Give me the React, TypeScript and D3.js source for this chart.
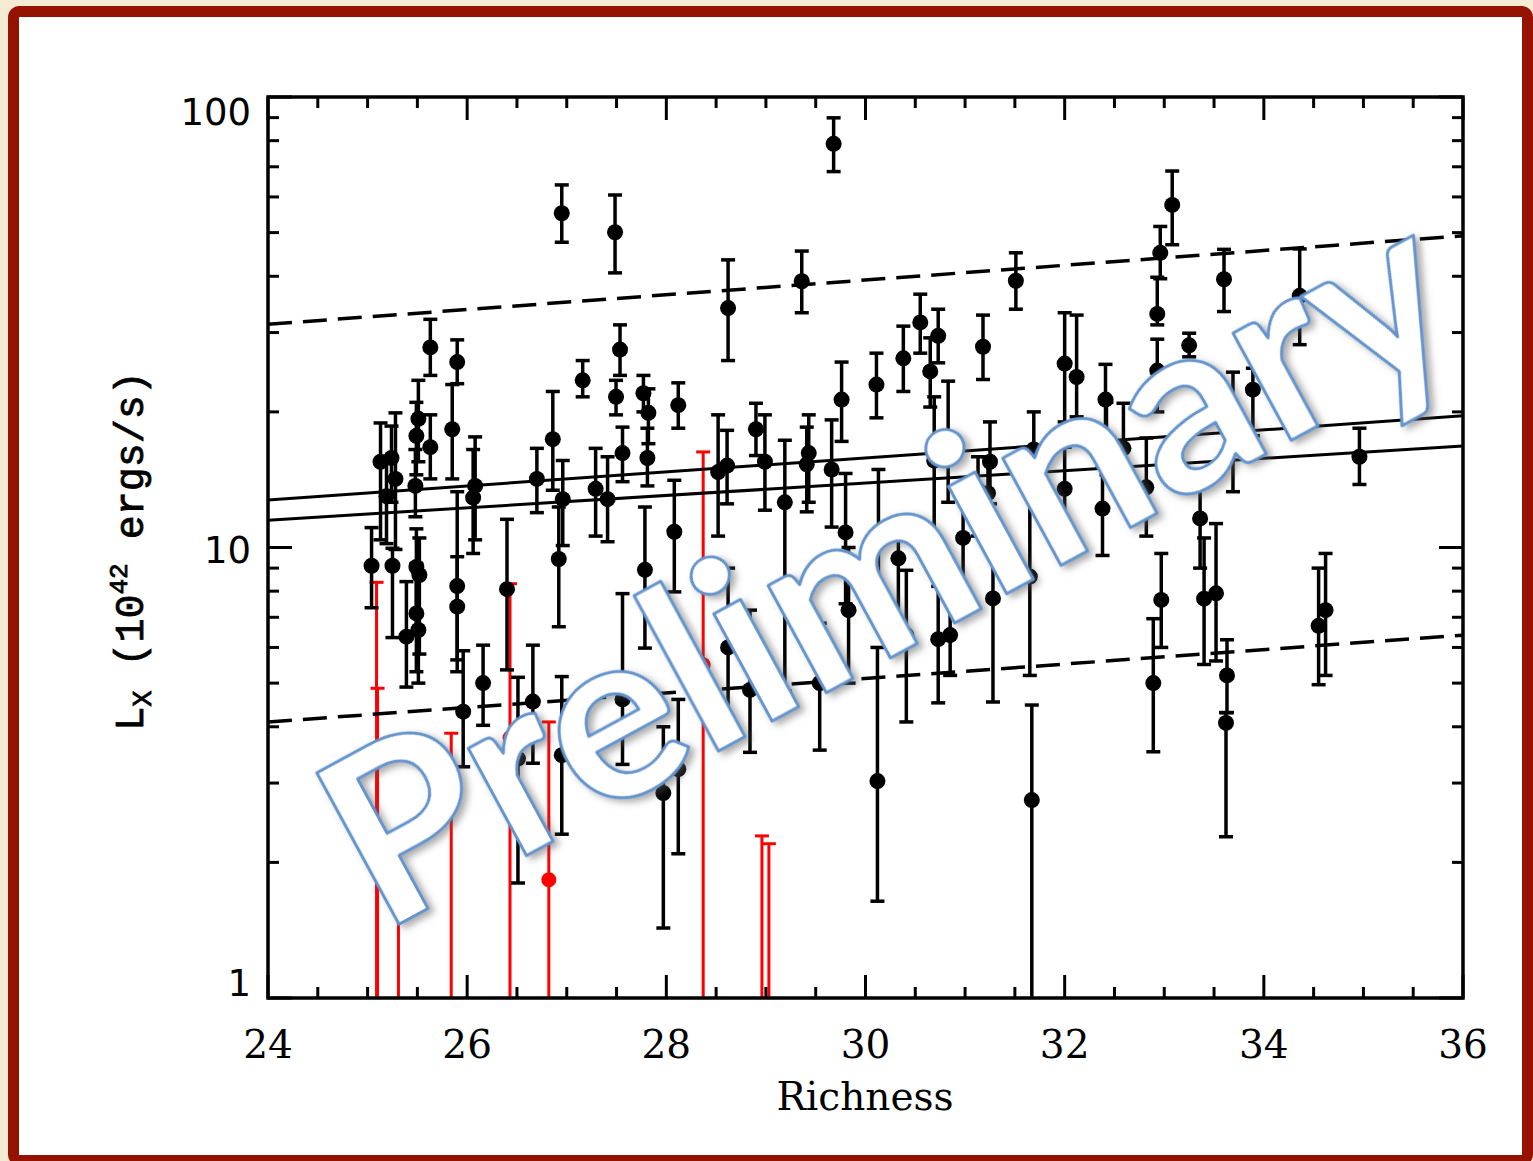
import React from 'react';
import * as d3 from 'd3';

const W = 1533;
const H = 1161;
const PLOT = { left: 268, right: 1463, top: 97, bottom: 998 };

const xTickValues = [24, 26, 28, 30, 32, 34, 36];
const xTickLabels = ['24', '26', '28', '30', '32', '34', '36'];
const yTickValues = [1, 10, 100];
const yTickLabels = ['1', '10', '100'];

// black clusters: richness, Lx, lower and upper error
const richnessBlack = [
  25.04, 25.25, 25.13, 25.24, 25.28, 25.19, 25.51, 25.49, 25.63, 25.85,
  25.48, 26.08, 26.06, 25.39, 25.51, 25.49, 25.52, 25.49, 25.90, 25.90,
  25.96, 26.16, 26.40, 26.51, 26.66, 25.63, 25.90, 26.70, 26.86, 26.96,
  26.92, 26.95, 27.16, 27.29, 27.41, 27.485, 27.535, 27.495, 27.56, 27.77,
  27.82, 27.81, 27.785, 28.08, 28.12, 27.97, 28.12, 28.52, 28.61, 28.62,
  28.90, 28.99, 29.19, 29.36, 29.68, 29.66, 29.43, 29.41, 29.76, 29.54,
  29.80, 29.83, 30.13, 30.12, 30.11, 30.33, 30.41, 30.38, 30.55, 30.65,
  30.73, 30.69, 30.83, 30.73, 30.85, 30.98, 31.18, 31.51, 31.13, 31.23,
  31.25, 31.28, 31.65, 31.67, 31.69, 32.00, 32.12, 32.00, 32.41, 32.42,
  32.59, 32.38, 32.82, 32.93, 32.96, 33.08, 33.25, 32.93, 33.60, 33.69,
  33.89, 34.36, 34.96, 33.36, 32.97, 33.40, 33.52, 32.89, 33.63, 33.62,
  34.55, 34.62, 28.62, 28.84, 27.56, 26.95,
];
const lxBlack = [
  9.11, 9.11, 15.5, 15.8, 14.2, 13.0, 19.3, 17.7, 16.7, 18.3,
  13.7, 13.7, 12.9, 6.34, 6.56, 7.14, 8.69, 9.05, 8.21, 7.39,
  4.32, 5.0, 8.08, 3.4, 4.55, 27.8, 25.8, 14.2, 17.4, 12.8,
  9.43, 55.2, 23.5, 13.5, 12.8, 50.1, 27.5, 21.6, 16.2, 22.0,
  19.9, 15.8, 8.92, 10.84, 20.7, 2.85, 3.22, 14.7, 15.2, 34.0,
  18.3, 15.5, 12.6, 39.0, 78.7, 14.9, 16.2, 15.3, 21.3, 5.0,
  10.8, 7.26, 10.66, 3.03, 23.0, 9.46, 6.39, 26.3, 31.6, 24.6,
  29.5, 15.6, 17.3, 6.26, 6.39, 10.5, 27.9, 39.1, 13.4, 13.2,
  15.5, 7.71, 8.62, 2.75, 16.5, 25.6, 23.9, 13.5, 21.3, 17.4,
  16.6, 12.2, 13.6, 33.0, 45.1, 57.6, 28.1, 24.7, 39.4, 20.0,
  22.4, 36.2, 15.9, 11.6, 7.65, 7.7, 7.91, 5.0, 5.2, 4.08,
  6.7, 7.26, 6.0, 4.83, 4.6, 3.46,
];
const lxBlackLo = [
  7.35, 6.31, 10.4, 12.6, 9.9, 10.2, 15.5, 14.5, 14.2, 14.2,
  11.7, 10.4, 9.7, 4.9, 5.0, 5.3, 5.8, 6.5, 5.63, 5.3,
  3.26, 4.03, 5.35, 1.8, 3.32, 24.1, 23.1, 11.95, 13.4, 10.1,
  6.67, 47.6, 21.6, 10.6, 10.3, 40.7, 24.1, 19.7, 14.0, 20.0,
  17.0, 13.7, 5.98, 7.97, 18.4, 1.43, 2.09, 10.6, 12.5, 26.0,
  16.0, 12.1, 4.8, 33.2, 68.3, 11.1, 12.6, 12.0, 17.2, 3.55,
  7.5, 5.0, 7.0, 1.64, 19.4, 6.9, 4.1, 22.2, 27.0, 20.5,
  25.7, 10.6, 12.6, 4.52, 5.2, 7.9, 23.6, 33.8, 10.6, 11.0,
  12.5, 4.54, 5.2, 0.5, 13.0, 19.0, 19.5, 10.7, 17.5, 14.5,
  13.5, 9.6, 10.6, 31.2, 39.5, 47.0, 26.5, 20.0, 33.4, 13.3,
  17.7, 28.2, 13.8, 9.0, 6.0, 5.5, 5.6, 3.52, 4.3, 2.28,
  4.96, 5.2, 4.14, 3.51, 3.3, 2.31,
];
const lxBlackHi = [
  11.07, 9.96, 18.9, 18.6, 19.9, 15.5, 23.5, 21.0, 19.7, 23.0,
  16.5, 17.6, 16.5, 8.4, 8.8, 9.2, 10.5, 11.0, 13.3, 9.54,
  5.9, 6.07, 11.55, 5.15, 6.07, 32.1, 28.9, 16.6, 22.2, 15.6,
  12.3, 63.8, 26.0, 16.6, 15.9, 60.6, 31.2, 23.5, 18.5, 24.1,
  22.5, 18.4, 12.3, 14.1, 23.2, 4.0, 4.6, 19.7, 18.2, 43.5,
  20.9, 19.7, 17.3, 45.5, 89.9, 19.2, 19.7, 18.5, 25.8, 6.79,
  14.6, 10.0, 14.9, 6.0, 27.0, 11.2, 8.9, 31.0, 36.5, 29.2,
  33.8, 21.6, 23.4, 8.2, 8.0, 13.7, 32.8, 45.1, 15.9, 15.9,
  19.0, 10.9, 16.3, 4.47, 20.0, 33.2, 32.8, 16.7, 25.5, 21.0,
  20.9, 15.0, 17.5, 39.8, 51.6, 68.5, 29.9, 29.0, 45.9, 24.5,
  25.0, 46.0, 18.4, 14.7, 9.7, 10.5, 11.3, 6.95, 6.24, 4.3,
  9.0, 9.7, 9.0, 7.26, 7.9, 5.17,
];

// red clusters (NaN = point below the axis range)
const richnessRed = [25.09, 25.10, 25.31, 25.84, 26.43, 26.82, 28.37, 28.96, 29.03];
const lxRed = [NaN, NaN, NaN, NaN, 3.78, 1.83, 5.49, NaN, NaN];
const lxRedLo = [0.5, 0.5, 0.5, 0.5, 0.5, 0.5, 0.5, 0.5, 0.5];
const lxRedHi = [8.37, 4.87, 1.93, 3.87, 8.31, 4.1, 16.3, 2.29, 2.2];

// fitted relations
const fitRichness = [24, 36];
const fitSolidA = [12.75, 19.6];
const fitSolidB = [11.5, 16.8];
const fitDashUpper = [31.3, 49.2];
const fitDashLower = [4.1, 6.39];

const x = d3.scaleLinear().domain([24, 36]).range([PLOT.left, PLOT.right]);
const y = d3.scaleLog().domain([1, 100]).range([PLOT.bottom, PLOT.top]);

const lineGen = d3
  .line<[number, number]>()
  .x((d) => x(d[0]))
  .y((d) => y(d[1]));

const CAP = 7;

export default function App() {
  const xMinor = d3.range(24, 36.01, 0.5).filter((v) => Math.abs(v % 2) > 1e-6);
  const yMinor: number[] = [];
  [1, 10].forEach((dec) => {
    for (let k = 2; k <= 9; k++) yMinor.push(k * dec);
  });

  const black = richnessBlack.map((r, i) => ({
    r,
    v: lxBlack[i],
    lo: lxBlackLo[i],
    hi: lxBlackHi[i],
  }));
  const red = richnessRed.map((r, i) => ({
    r,
    v: lxRed[i],
    lo: lxRedLo[i],
    hi: lxRedHi[i],
  }));

  const yLabelPos: Record<string, number> = { '1': 996, '10': 563, '100': 125 };

  return (
    <svg
      width={W}
      height={H}
      style={{ position: 'absolute', left: 0, top: 0 }}
      xmlns="http://www.w3.org/2000/svg"
    >
      <defs>
        <clipPath id="plotClip">
          <rect
            x={PLOT.left}
            y={PLOT.top}
            width={PLOT.right - PLOT.left}
            height={PLOT.bottom - PLOT.top}
          />
        </clipPath>
        <filter id="shadow" x="-10%" y="-10%" width="120%" height="130%">
          <feDropShadow dx="3" dy="5" stdDeviation="3.5" floodColor="#555" floodOpacity="0.5" />
        </filter>
      </defs>
      <rect x={0} y={0} width={W} height={H} fill="#f5ebd4" />
      <rect
        x={13.5}
        y={11.5}
        width={1514}
        height={1149}
        rx={6}
        fill="#ffffff"
        stroke="#961200"
        strokeWidth={11}
      />

      {/* data */}
      <g clipPath="url(#plotClip)">
        {red.map((d, i) => (
          <g key={'r' + i} stroke="#ff0000" strokeWidth={3}>
            <line x1={x(d.r)} x2={x(d.r)} y1={y(d.hi)} y2={y(d.lo)} />
            <line x1={x(d.r) - CAP} x2={x(d.r) + CAP} y1={y(d.hi)} y2={y(d.hi)} />
            {!isNaN(d.v) && <circle cx={x(d.r)} cy={y(d.v)} r={7.5} fill="#ff0000" stroke="none" />}
          </g>
        ))}
        {black.map((d, i) => (
          <g key={'b' + i} stroke="#000" strokeWidth={3.5}>
            <line x1={x(d.r)} x2={x(d.r)} y1={y(d.hi)} y2={y(d.lo)} />
            <line x1={x(d.r) - CAP} x2={x(d.r) + CAP} y1={y(d.hi)} y2={y(d.hi)} />
            {d.lo > 1 && (
              <line x1={x(d.r) - CAP} x2={x(d.r) + CAP} y1={y(d.lo)} y2={y(d.lo)} />
            )}
            <circle cx={x(d.r)} cy={y(d.v)} r={8} fill="#000" stroke="none" />
          </g>
        ))}
        <path
          d={lineGen(fitRichness.map((r, i) => [r, fitSolidA[i]]) as [number, number][]) || ''}
          stroke="#000"
          strokeWidth={3}
          fill="none"
        />
        <path
          d={lineGen(fitRichness.map((r, i) => [r, fitSolidB[i]]) as [number, number][]) || ''}
          stroke="#000"
          strokeWidth={3}
          fill="none"
        />
        <path
          d={lineGen(fitRichness.map((r, i) => [r, fitDashUpper[i]]) as [number, number][]) || ''}
          stroke="#000"
          strokeWidth={3.5}
          strokeDasharray="24 11"
          fill="none"
        />
        <path
          d={lineGen(fitRichness.map((r, i) => [r, fitDashLower[i]]) as [number, number][]) || ''}
          stroke="#000"
          strokeWidth={3.5}
          strokeDasharray="24 11"
          fill="none"
        />
      </g>

      {/* axes box */}
      <rect
        x={PLOT.left}
        y={PLOT.top}
        width={PLOT.right - PLOT.left}
        height={PLOT.bottom - PLOT.top}
        fill="none"
        stroke="#000"
        strokeWidth={3.5}
      />
      <g stroke="#000" strokeWidth={3}>
        {xTickValues.map((v) => (
          <g key={'xt' + v}>
            <line x1={x(v)} x2={x(v)} y1={PLOT.bottom} y2={PLOT.bottom - 23} />
            <line x1={x(v)} x2={x(v)} y1={PLOT.top} y2={PLOT.top + 23} />
          </g>
        ))}
        {xMinor.map((v) => (
          <g key={'xm' + v}>
            <line x1={x(v)} x2={x(v)} y1={PLOT.bottom} y2={PLOT.bottom - 11} />
            <line x1={x(v)} x2={x(v)} y1={PLOT.top} y2={PLOT.top + 11} />
          </g>
        ))}
        {yTickValues.map((v) => (
          <g key={'yt' + v}>
            <line x1={PLOT.left} x2={PLOT.left + 24} y1={y(v)} y2={y(v)} />
            <line x1={PLOT.right} x2={PLOT.right - 24} y1={y(v)} y2={y(v)} />
          </g>
        ))}
        {yMinor.map((v) => (
          <g key={'ym' + v}>
            <line x1={PLOT.left} x2={PLOT.left + 11} y1={y(v)} y2={y(v)} />
            <line x1={PLOT.right} x2={PLOT.right - 11} y1={y(v)} y2={y(v)} />
          </g>
        ))}
      </g>

      {/* tick labels */}
      {xTickValues.map((v, i) => (
        <text
          key={'xl' + v}
          x={x(v)}
          y={1058}
          textAnchor="middle"
          fontFamily="'DejaVu Serif', serif"
          fontSize={39}
          fill="#000"
        >
          {xTickLabels[i]}
        </text>
      ))}
      {yTickValues.map((v, i) => (
        <text
          key={'yl' + v}
          x={251}
          y={yLabelPos[yTickLabels[i]]}
          textAnchor="end"
          fontFamily="'DejaVu Sans', sans-serif"
          fontSize={37}
          fill="#000"
        >
          {yTickLabels[i]}
        </text>
      ))}

      <text
        x={865}
        y={1110}
        textAnchor="middle"
        fontFamily="'DejaVu Serif', serif"
        fontSize={39}
        fill="#000"
      >
        Richness
      </text>
      <text
        transform="translate(143,551) rotate(-90)"
        textAnchor="middle"
        fontFamily="'Liberation Mono', monospace"
        fontSize={40}
        fill="#000"
        stroke="#000"
        strokeWidth={0.8}
      >
        L
        <tspan fontSize={27} dy={8}>X</tspan>
        <tspan dy={-8}> (10</tspan>
        <tspan fontSize={26} dy={-16}>42</tspan>
        <tspan dy={16}> ergs/s)</tspan>
      </text>

      {/* watermark */}
      <g transform="translate(382,934) rotate(-28.5)" filter="url(#shadow)">
        <text
          x={0}
          y={0}
          fontFamily="Lato, 'Open Sans', sans-serif"
          fontWeight={700}
          fontSize={238}
          textLength={1240}
          lengthAdjust="spacingAndGlyphs"
          fill="#ffffff"
          stroke="#6494cc"
          strokeWidth={3}
          strokeLinejoin="round"
        >
          Preliminary
        </text>
      </g>
    </svg>
  );
}
